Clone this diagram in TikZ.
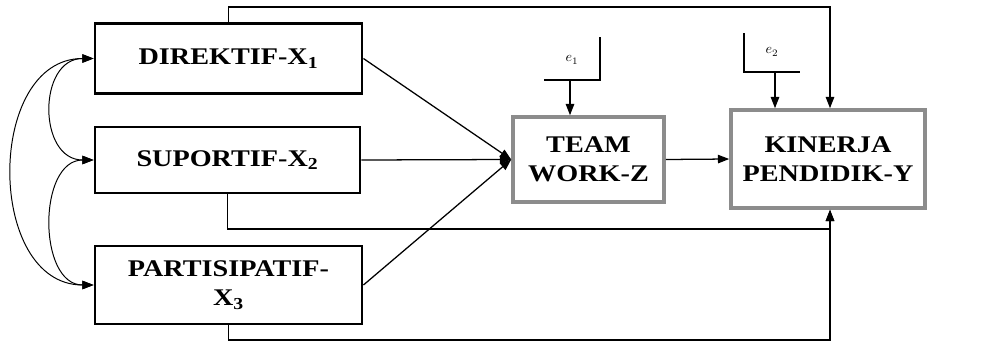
\documentclass[tikz,border=0pt]{standalone}
\usepackage{fontspec}
\setmainfont{Liberation Serif}
\newfontfamily\boxfont[FakeStretch=1.18]{Liberation Serif}
\usetikzlibrary{arrows.meta}
\tikzset{
  varbox/.style={draw, line width=2pt, align=center, inner sep=0pt,
    font=\boxfont\bfseries\fontsize{17}{21}\selectfont},
  endbox/.style={varbox, draw=black!45, line width=2.5pt},
  arr/.style={-{Triangle[length=8pt,width=6pt]}, line width=0.9pt},
  biarr/.style={{Triangle[length=8pt,width=6pt]}-{Triangle[length=8pt,width=6pt]}, line width=0.7pt}
}

\begin{document}
\begin{tikzpicture}[x=0.025cm, y=-0.025cm]
  \useasboundingbox (0,0) rectangle (988,342);

  \node[varbox, minimum width=6.675cm, minimum height=1.75cm] (x1) at (228.5,58.5) {DIREKTIF-X\textsubscript{1}};
  \node[varbox, minimum width=6.625cm, minimum height=1.65cm] (x2) at (227.5,160) {SUPORTIF-X\textsubscript{2}};
  \node[varbox, minimum width=6.675cm, minimum height=1.95cm] (x3) at (228.5,285) {PARTISIPATIF-\\X\textsubscript{3}};
  \node[endbox, minimum width=3.775cm, minimum height=2.125cm] (tm) at (588.5,159.5) {TEAM\\WORK-Z};
  \node[endbox, minimum width=4.85cm, minimum height=2.45cm] (kin) at (828,159) {KINERJA\\PENDIDIK-Y};

  \draw[biarr] (x1.west) to[out=180, in=180, distance=1.4cm] (x2.west);
  \draw[biarr] (x2.west) to[out=180, in=180, distance=1.4cm] (x3.west);
  \draw[biarr] (x1.west) to[out=180, in=180, distance=2.7cm] (x3.west);

  \draw[arr] (x1.east) -- (tm.west);
  \draw[arr] (x2.east) -- (tm.west);
  \draw[arr] (x3.east) -- (tm.west);
  \draw[arr] (tm.east) -- (kin.west);

  \coordinate (t) at (830,7);
  \coordinate (b1) at (830,229);
  \coordinate (b2) at (830,340);
  \draw[arr] (x1.north) |- (t) -- (t |- kin.north);
  \draw[arr] (x2.south) |- (b1) -- (b1 |- kin.south);
  \draw[arr] (x3.south) |- (b2) -- (b2 |- kin.south);

  \node[font=\normalsize] (e1) at (572,60) {$e_1$};
  \draw[line width=0.8pt] (600,37) -- (600,80) -- (544,80);
  \coordinate (e1b) at (570,80);
  \draw[arr] (e1b) -- (e1b |- tm.north);

  \node[font=\normalsize] (e2) at (772,52) {$e_2$};
  \draw[line width=0.8pt] (744,33) -- (744,72) -- (800,72);
  \coordinate (e2b) at (775,72);
  \draw[arr] (e2b) -- (e2b |- kin.north);
\end{tikzpicture}
\end{document}
